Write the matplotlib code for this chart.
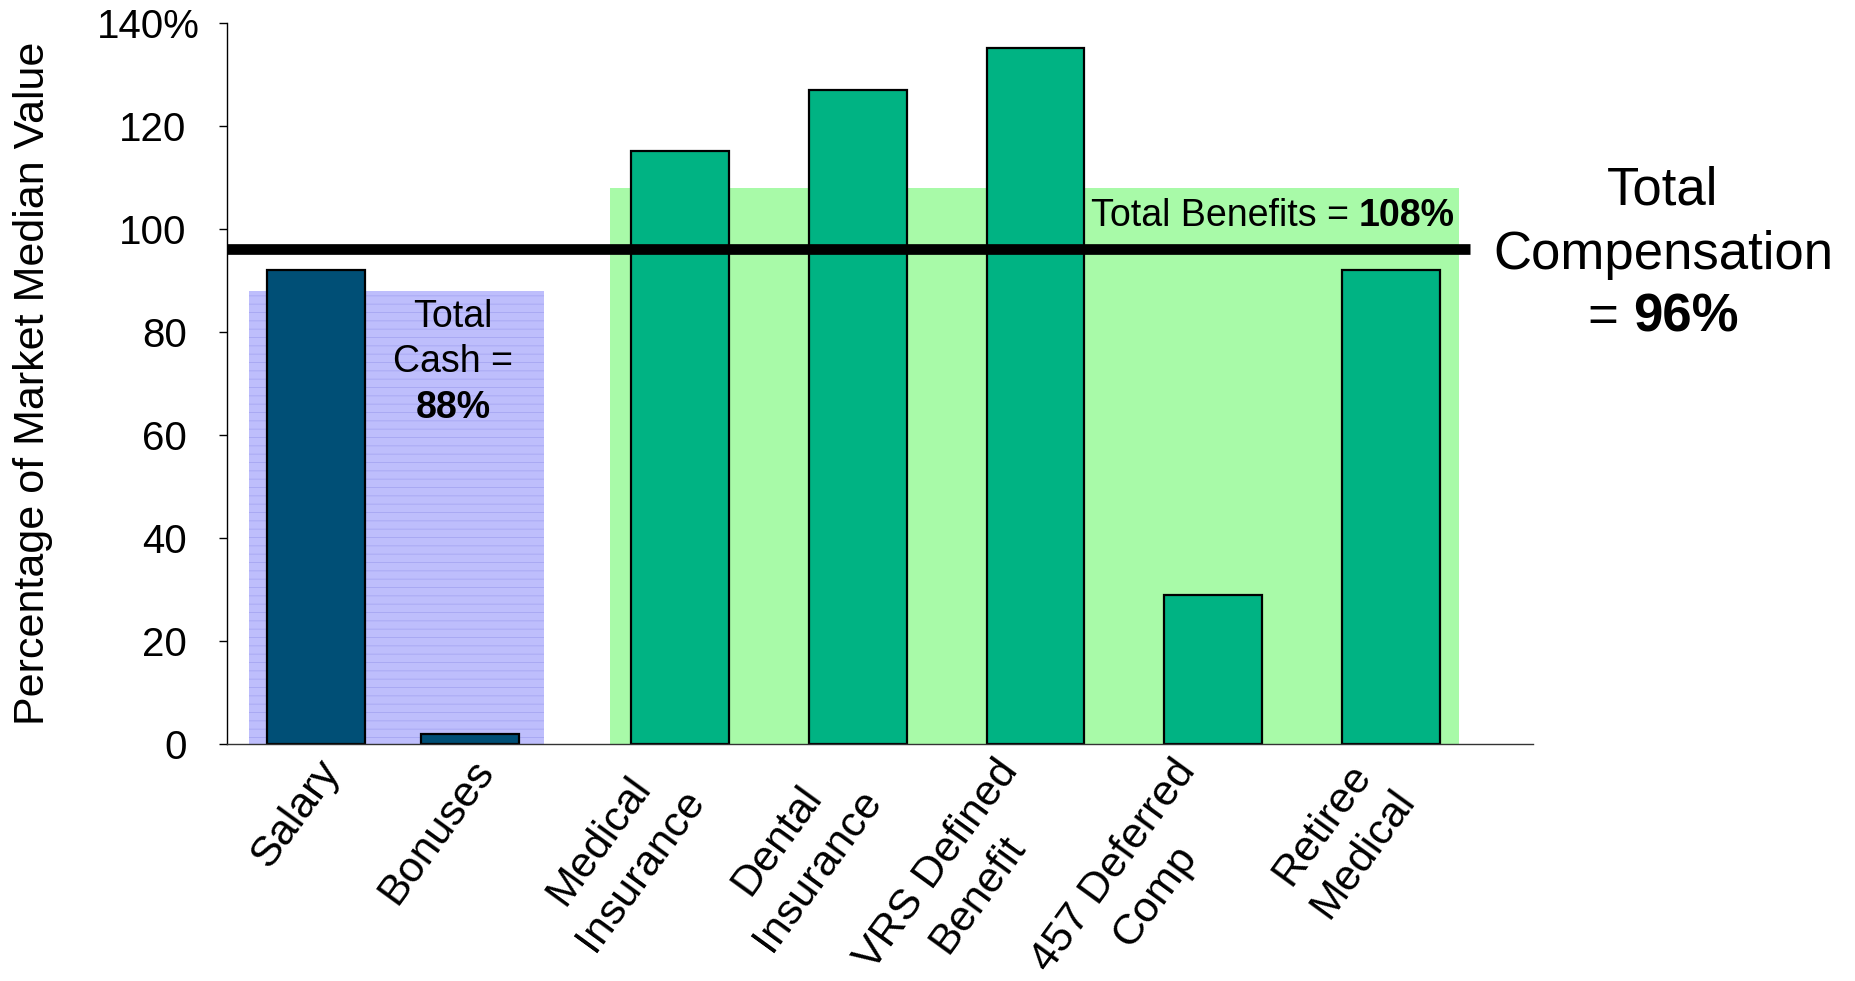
import matplotlib
matplotlib.use('Agg')
import matplotlib.pyplot as plt
from matplotlib.patches import Rectangle
from matplotlib.transforms import ScaledTranslation

plt.rcParams['font.family'] = ['Liberation Sans', 'DejaVu Sans']
plt.rcParams['hatch.linewidth'] = 0.6

# data (% of market median)
categories = ['Salary', 'Bonuses', 'Medical\nInsurance', 'Dental\nInsurance',
              'VRS Defined\nBenefit', '457 Deferred\nComp', 'Retiree\nMedical']
values = [92, 2, 115, 127, 135, 29, 92]
groups = ['cash', 'cash', 'benefit', 'benefit', 'benefit', 'benefit', 'benefit']
total_cash = 88
total_benefits = 108
total_comp = 96
yticks = [0, 20, 40, 60, 80, 100, 120, 140]
ytick_labels = ['0', '20', '40', '60', '80', '100', '120', '140%']

# layout (cash bars sit a bit closer together than the benefit bars)
xpos = [-0.05, 0.82, 2, 3, 4, 5, 6]
bar_w = 0.55
colors = {'cash': '#004F76', 'benefit': '#00B383'}

fig = plt.figure(figsize=(18.56, 9.81), dpi=100)
ax = fig.add_axes([0.1223, 0.2416, 0.8260 - 0.1223, 0.9769 - 0.2416])

# shaded group backgrounds
ax.add_patch(Rectangle((-0.425, 0), 1.66, total_cash, facecolor='#BEBEFC',
                       edgecolor='#A6A6F2', hatch='--', lw=0, zorder=1))
ax.add_patch(Rectangle((1.606, 0), 6.383 - 1.606, total_benefits,
                       facecolor='#A8FAA8', lw=0, zorder=1))

ax.bar(xpos, values, width=bar_w, color=[colors[g] for g in groups],
       edgecolor='black', linewidth=1.6, zorder=2)

# total compensation line
ax.hlines(total_comp, -0.549, 6.444, color='black', lw=7.7, zorder=4)

ax.set_xlim(-0.549, 6.799)
ax.set_ylim(0, 140)

ax.set_yticks(yticks)
ax.set_yticklabels(ytick_labels, fontsize=29)
ax.tick_params(axis='y', length=6, width=1, pad=23)
top = ax.get_yticklabels()[-1]
top.set_transform(top.get_transform() + ScaledTranslation(0.13, 0, fig.dpi_scale_trans))

# rotated labels aligned by their rotated box, like the spreadsheet does
ax.set_xticks(xpos)
ax.set_xticklabels(categories, fontsize=31, rotation=54, ha='right', va='top',
                   rotation_mode='default', multialignment='center', linespacing=1.35)
ax.tick_params(axis='x', length=0, pad=6)
for lbl in ax.get_xticklabels():
    lbl.set_transform(lbl.get_transform() + ScaledTranslation(0.32, 0, fig.dpi_scale_trans))

ax.set_ylabel('Percentage of Market Median Value', fontsize=31)
ax.yaxis.set_label_coords(-0.133, 0.5)

for s in ['top', 'right']:
    ax.spines[s].set_visible(False)
ax.spines['left'].set_linewidth(1)
ax.spines['bottom'].set_linewidth(1)
ax.spines['bottom'].set_linestyle((0, (3, 1)))
ax.spines['bottom'].set_color('#333333')

# annotations
ax.text(0.723, 78.5, 'Total\nCash =', ha='center', va='center', fontsize=27,
        linespacing=1.3, zorder=5)
ax.text(0.723, 65.3, f'{total_cash}%', ha='center', va='center', fontsize=27,
        fontweight='bold', zorder=5)

b = ax.text(6.36, 102.4, f'{total_benefits}%', ha='right', va='center',
            fontsize=27, fontweight='bold', zorder=5)
ax.annotate('Total Benefits = ', xy=(0, 0.5), xycoords=b, ha='right', va='center',
            fontsize=27, zorder=5)

fig.text(0.896, 0.806, 'Total', ha='center', va='center', fontsize=38)
fig.text(0.896, 0.740, 'Compensation', ha='center', va='center', fontsize=38)
c = fig.text(0.880, 0.676, f'{total_comp}%', ha='left', va='center', fontsize=38,
             fontweight='bold')
ax.annotate('= ', xy=(0, 0.5), xycoords=c, ha='right', va='center', fontsize=38,
            annotation_clip=False)

fig.savefig('out.png', dpi=100)
